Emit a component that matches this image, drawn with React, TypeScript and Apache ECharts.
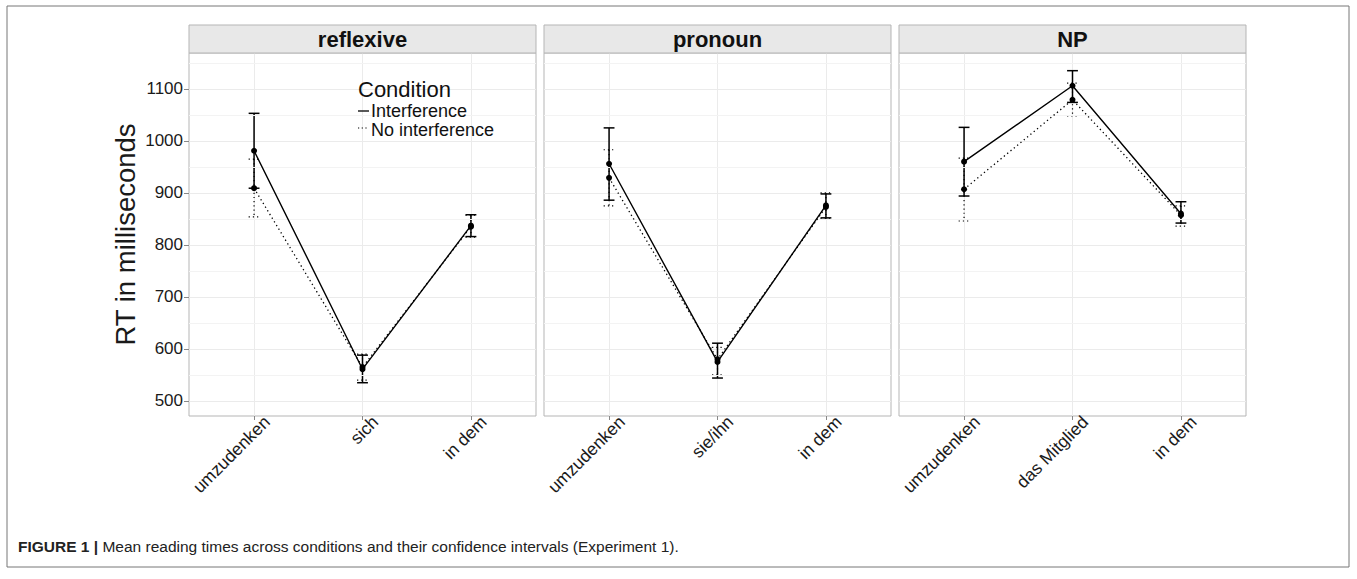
import React, { useEffect, useRef } from "react";
import * as echarts from "echarts";

const PANELS = ["reflexive", "pronoun", "NP"];
const CATS_REFLEXIVE = ["umzudenken", "sich", "in dem"];
const CATS_PRONOUN = ["umzudenken", "sie/ihn", "in dem"];
const CATS_NP = ["umzudenken", "das Mitglied", "in dem"];

const INT_MEAN_REFLEXIVE = [981, 561, 837];
const INT_LOW_REFLEXIVE = [909, 535, 816];
const INT_HIGH_REFLEXIVE = [1053, 588, 858];
const NOINT_MEAN_REFLEXIVE = [909, 565, 835];
const NOINT_LOW_REFLEXIVE = [854, 540, 815];
const NOINT_HIGH_REFLEXIVE = [965, 590, 857];

const INT_MEAN_PRONOUN = [956, 575, 876];
const INT_LOW_PRONOUN = [886, 544, 852];
const INT_HIGH_PRONOUN = [1025, 611, 898];
const NOINT_MEAN_PRONOUN = [929, 580, 873];
const NOINT_LOW_PRONOUN = [875, 550, 850];
const NOINT_HIGH_PRONOUN = [983, 603, 900];

const INT_MEAN_NP = [960, 1106, 860];
const INT_LOW_NP = [894, 1074, 842];
const INT_HIGH_NP = [1026, 1135, 883];
const NOINT_MEAN_NP = [907, 1079, 857];
const NOINT_LOW_NP = [846, 1048, 836];
const NOINT_HIGH_NP = [967, 1111, 875];

const Y_TICKS = [500, 600, 700, 800, 900, 1000, 1100];
const Y_MINOR = [550, 650, 750, 850, 950, 1050, 1150];
const X_POS = [1, 2, 3];

const FONT = "'Liberation Sans', Arial, sans-serif";

export default function App() {
  const ref = useRef<HTMLDivElement>(null);
  useEffect(() => {
    if (!ref.current) return;
    const chart = echarts.init(ref.current, null, { renderer: "svg" });

    const cats = [CATS_REFLEXIVE, CATS_PRONOUN, CATS_NP];
    const intMean = [INT_MEAN_REFLEXIVE, INT_MEAN_PRONOUN, INT_MEAN_NP];
    const intLow = [INT_LOW_REFLEXIVE, INT_LOW_PRONOUN, INT_LOW_NP];
    const intHigh = [INT_HIGH_REFLEXIVE, INT_HIGH_PRONOUN, INT_HIGH_NP];
    const noMean = [NOINT_MEAN_REFLEXIVE, NOINT_MEAN_PRONOUN, NOINT_MEAN_NP];
    const noLow = [NOINT_LOW_REFLEXIVE, NOINT_LOW_PRONOUN, NOINT_LOW_NP];
    const noHigh = [NOINT_HIGH_REFLEXIVE, NOINT_HIGH_PRONOUN, NOINT_HIGH_NP];

    const gridLefts = [189, 544, 899];
    const gridWidth = 347;
    const gridTop = 53;
    const gridHeight = 363;

    const CAP = 0.1;
    const errRender = (lineWidth: number, dash: number[] | null) => (params: any, api: any) => {
      const x = api.value(0);
      const lo = api.value(1);
      const hi = api.value(2);
      const pTop = api.coord([x, hi]);
      const pBot = api.coord([x, lo]);
      const l = api.coord([x - CAP / 2, hi])[0];
      const r = api.coord([x + CAP / 2, hi])[0];
      const style: any = { stroke: "#000", lineWidth, fill: null };
      if (dash) style.lineDash = dash;
      return {
        type: "group",
        children: [
          { type: "line", shape: { x1: pTop[0], y1: pTop[1], x2: pBot[0], y2: pBot[1] }, style },
          { type: "line", shape: { x1: l, y1: pTop[1], x2: r, y2: pTop[1] }, style },
          { type: "line", shape: { x1: l, y1: pBot[1], x2: r, y2: pBot[1] }, style },
        ],
      };
    };

    const grids: any[] = [];
    const xAxes: any[] = [];
    const yAxes: any[] = [];
    const series: any[] = [];
    const graphics: any[] = [];

    graphics.push({
      type: "rect",
      shape: { x: 7, y: 6, width: 1342, height: 561 },
      style: { fill: "none", stroke: "#777", lineWidth: 1 },
      z: 0,
    });

    for (let i = 0; i < 3; i++) {
      grids.push({
        left: gridLefts[i],
        top: gridTop,
        width: gridWidth,
        height: gridHeight,
        show: true,
        borderColor: "#b5b5b5",
        borderWidth: 1,
        backgroundColor: "#fff",
      });
      const c = cats[i];
      xAxes.push({
        type: "value",
        gridIndex: i,
        min: 0.4,
        max: 3.6,
        axisLine: { show: false },
        axisTick: { show: true, customValues: X_POS, length: 4, lineStyle: { color: "#888" } },
        axisLabel: {
          customValues: X_POS,
          formatter: (v: number) => c[Math.round(v) - 1] ?? "",
          rotate: 45,
          fontSize: 17.5,
          color: "#1a1a1a",
          fontFamily: FONT,
          margin: 3,
          verticalAlign: "top",
          padding: [0, -9, 0, 0],
        },
        splitLine: { show: true, lineStyle: { color: "#ebebeb", width: 1 } },
      });
      yAxes.push({
        type: "value",
        gridIndex: i,
        min: 471,
        max: 1169,
        axisLine: { show: false },
        axisTick: {
          show: i === 0,
          customValues: Y_TICKS,
          length: 5,
          lineStyle: { color: "#888" },
        },
        axisLabel: {
          show: i === 0,
          customValues: Y_TICKS,
          formatter: (v: number) => String(v),
          fontSize: 17,
          color: "#1a1a1a",
          fontFamily: FONT,
          margin: 6,
        },
        splitLine: { show: true, lineStyle: { color: "#ebebeb", width: 1 } },
        name: i === 0 ? "RT in milliseconds" : "",
        nameLocation: "middle",
        nameGap: 50,
        nameRotate: 90,
        nameTextStyle: { fontSize: 27.5, color: "#1a1a1a", fontFamily: FONT },
      });

      series.push({
        type: "line",
        xAxisIndex: i,
        yAxisIndex: i,
        data: [],
        silent: true,
        z: 1,
        markLine: {
          silent: true,
          symbol: "none",
          label: { show: false },
          lineStyle: { color: "#f3f3f3", type: "solid", width: 1 },
          data: Y_MINOR.map((v) => ({ yAxis: v })),
          animation: false,
        },
      });

      series.push({
        type: "custom",
        name: "No interference",
        xAxisIndex: i,
        yAxisIndex: i,
        data: X_POS.map((x, k) => [x, noLow[i][k], noHigh[i][k]]),
        encode: { x: 0, y: [1, 2] },
        renderItem: errRender(1.2, [1.2, 3]),
        z: 3,
      });
      series.push({
        type: "custom",
        name: "Interference",
        xAxisIndex: i,
        yAxisIndex: i,
        data: X_POS.map((x, k) => [x, intLow[i][k], intHigh[i][k]]),
        encode: { x: 0, y: [1, 2] },
        renderItem: errRender(1.5, null),
        z: 4,
      });
      series.push({
        type: "line",
        name: "No interference",
        xAxisIndex: i,
        yAxisIndex: i,
        data: X_POS.map((x, k) => [x, noMean[i][k]]),
        symbol: "circle",
        symbolSize: 6,
        itemStyle: { color: "#000" },
        lineStyle: { color: "#000", width: 1.3, type: [1.3, 3] },
        z: 5,
      });
      series.push({
        type: "line",
        name: "Interference",
        xAxisIndex: i,
        yAxisIndex: i,
        data: X_POS.map((x, k) => [x, intMean[i][k]]),
        symbol: "circle",
        symbolSize: 6,
        itemStyle: { color: "#000" },
        lineStyle: { color: "#000", width: 1.4, type: "solid" },
        z: 6,
      });

      graphics.push({
        type: "rect",
        shape: { x: gridLefts[i], y: 25, width: gridWidth, height: 28 },
        style: { fill: "#e8e8e8", stroke: "#b5b5b5", lineWidth: 1 },
        z: 1,
      });
      graphics.push({
        type: "text",
        x: gridLefts[i] + gridWidth / 2,
        y: 39,
        style: {
          text: PANELS[i],
          fontSize: 22,
          fontWeight: "bold",
          fontFamily: FONT,
          fill: "#111",
          align: "center",
          verticalAlign: "middle",
        },
        z: 2,
      });
    }

    // legend
    graphics.push({
      type: "text",
      x: 358,
      y: 89,
      style: { text: "Condition", fontSize: 22, fontFamily: FONT, fill: "#111", verticalAlign: "middle" },
      z: 10,
    });
    graphics.push({
      type: "line",
      shape: { x1: 358, y1: 111, x2: 369, y2: 111 },
      style: { stroke: "#000", lineWidth: 1.3 },
      z: 10,
    });
    graphics.push({
      type: "text",
      x: 371,
      y: 110.5,
      style: { text: "Interference", fontSize: 18, fontFamily: FONT, fill: "#111", verticalAlign: "middle" },
      z: 10,
    });
    graphics.push({
      type: "line",
      shape: { x1: 358, y1: 128, x2: 369, y2: 128 },
      style: { stroke: "#000", lineWidth: 1.2, lineDash: [1.2, 2.5] },
      z: 10,
    });
    graphics.push({
      type: "text",
      x: 371,
      y: 129.5,
      style: { text: "No interference", fontSize: 18, fontFamily: FONT, fill: "#111", verticalAlign: "middle" },
      z: 10,
    });

    graphics.push({
      type: "text",
      x: 18,
      y: 546,
      style: {
        text: "{b|FIGURE 1 |} Mean reading times across conditions and their confidence intervals (Experiment 1).",
        fontSize: 15.5,
        fontFamily: FONT,
        fill: "#222",
        verticalAlign: "middle",
        rich: {
          b: { fontWeight: "bold", fontSize: 15.5, fontFamily: FONT, fill: "#222" },
        },
      },
      z: 10,
    });

    chart.setOption({
      animation: false,
      backgroundColor: "#fff",
      grid: grids,
      xAxis: xAxes,
      yAxis: yAxes,
      series,
      graphic: graphics,
    });

    return () => chart.dispose();
  }, []);

  return (
    <div
      ref={ref}
      style={{ position: "fixed", left: 0, top: 0, width: 1357, height: 579 }}
    />
  );
}
